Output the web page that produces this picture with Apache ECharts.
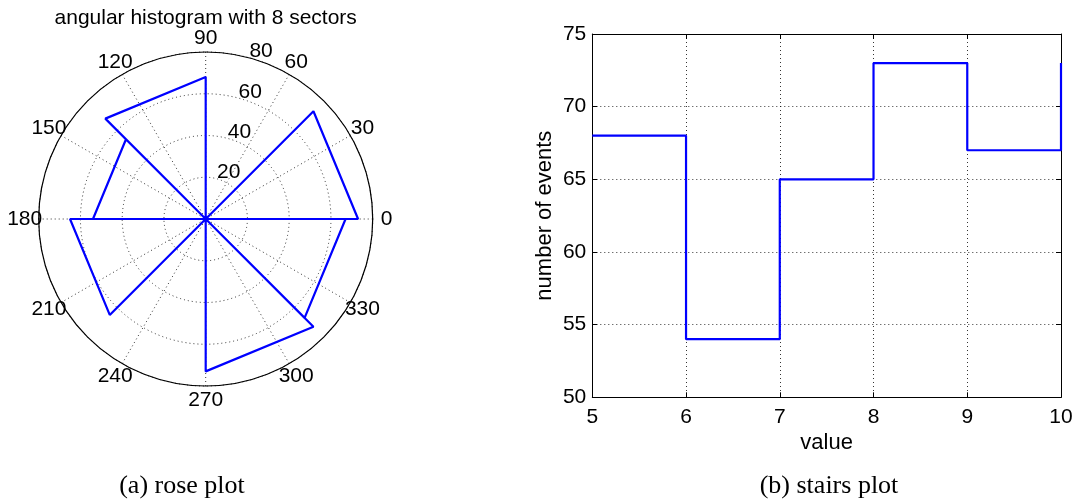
<!DOCTYPE html>
<html>
<head>
<meta charset="utf-8">
<script src="https://cdn.jsdelivr.net/npm/echarts@6/dist/echarts.min.js"></script>
<style>
  html, body { margin: 0; padding: 0; background: #fff; }
  #chart { width: 1078px; height: 500px; }
</style>
</head>
<body>
<div id="chart"></div>
<script>
// rose plot: 8 sectors of 45 deg, counts per sector
const sectorStarts = [0, 45, 90, 135, 180, 225, 270, 315]
const sectorCounts = [73, 0, 68, 54, 65, 0, 73, 67]
const angleTicks = [0, 30, 60, 90, 120, 150, 180, 210, 240, 270, 300, 330]
const radiusTicks = [20, 40, 60, 80]

// stairs plot
const stairX = [5, 6, 7, 8, 9, 10]
const stairY = [68, 54, 65, 73, 67, 73]

const FONT = 'Liberation Sans, Arial, sans-serif'
const SERIF = 'Liberation Serif, serif'
const BLUE = '#0000ff'
const DOT = { color: '#000', width: 0.8, type: [1, 3] }
const TICK = 21

// each sector is a triangle: origin -> (r, a0) -> (r, a1) -> origin
const rosePoints = []
sectorStarts.forEach((a0, i) => {
  const r = sectorCounts[i]
  rosePoints.push([0, a0], [r, a0], [r, a0 + 45], [0, a0 + 45])
})

const labelText = { fontSize: TICK, color: '#000', opacity: 1, fontFamily: FONT, textBorderWidth: 0, textShadowBlur: 0 }

const chart = echarts.init(document.getElementById('chart'))

chart.setOption({
  animation: false,
  backgroundColor: '#fff',
  textStyle: { fontFamily: FONT, color: '#000' },
  polar: { center: [205.7, 219], radius: 167 },
  angleAxis: {
    type: 'value',
    min: 0,
    max: 360,
    interval: 30,
    startAngle: 0,
    clockwise: false,
    axisLine: { show: true, lineStyle: { color: '#000', width: 1.2 } },
    axisTick: { show: false },
    axisLabel: { show: false },
    splitLine: { show: true, lineStyle: DOT },
  },
  radiusAxis: {
    type: 'value',
    min: 0,
    max: 80,
    interval: 20,
    axisLine: { show: false },
    axisTick: { show: false },
    axisLabel: { show: false },
    splitLine: { show: true, lineStyle: DOT },
  },
  grid: { left: 592.3, right: 17, top: 34, bottom: 102.7, containLabel: false },
  xAxis: [
    {
      type: 'value',
      min: 5,
      max: 10,
      interval: 1,
      name: 'value',
      nameLocation: 'middle',
      nameGap: 30,
      nameTextStyle: { fontSize: 22, color: '#000', fontFamily: FONT },
      axisLine: { show: true, lineStyle: { color: '#000', width: 1 } },
      axisTick: { show: true, inside: true, length: 5, lineStyle: { color: '#000' } },
      axisLabel: { fontSize: TICK, color: '#000', margin: 9, fontFamily: FONT },
      splitLine: { show: true, lineStyle: DOT },
    },
    {
      type: 'value',
      position: 'top',
      min: 5,
      max: 10,
      interval: 1,
      axisLine: { show: true, lineStyle: { color: '#000', width: 1 } },
      axisTick: { show: true, inside: true, length: 5, lineStyle: { color: '#000' } },
      axisLabel: { show: false },
      splitLine: { show: false },
    },
  ],
  yAxis: [
    {
      type: 'value',
      min: 50,
      max: 75,
      interval: 5,
      name: 'number of events',
      nameLocation: 'middle',
      nameGap: 36,
      nameTextStyle: { fontSize: 22, color: '#000', fontFamily: FONT },
      axisLine: { show: true, lineStyle: { color: '#000', width: 1 } },
      axisTick: { show: true, inside: true, length: 5, lineStyle: { color: '#000' } },
      axisLabel: { fontSize: TICK, color: '#000', margin: 6, fontFamily: FONT },
      splitLine: { show: true, lineStyle: DOT },
    },
    {
      type: 'value',
      position: 'right',
      min: 50,
      max: 75,
      interval: 5,
      axisLine: { show: true, lineStyle: { color: '#000', width: 1 } },
      axisTick: { show: true, inside: true, length: 5, lineStyle: { color: '#000' } },
      axisLabel: { show: false },
      splitLine: { show: false },
    },
  ],
  series: [
    {
      type: 'line',
      coordinateSystem: 'polar',
      data: rosePoints,
      showSymbol: false,
      symbol: 'none',
      lineStyle: { color: BLUE, width: 2.2 },
      silent: true,
    },
    {
      // angle labels, centred just outside the circle
      type: 'scatter',
      coordinateSystem: 'polar',
      clip: false,
      data: angleTicks.map(a => [86.7, a]),
      symbolSize: 1,
      itemStyle: { color: 'rgba(255,255,255,0)', opacity: 1 },
      label: Object.assign({ show: true, position: 'inside', formatter: p => String(p.value[1]) }, labelText),
      silent: true,
    },
    {
      // radial labels along the 75 deg line
      type: 'scatter',
      coordinateSystem: 'polar',
      clip: false,
      data: radiusTicks.map(r => [r, 75]),
      symbolSize: 1,
      itemStyle: { color: 'rgba(255,255,255,0)', opacity: 1 },
      label: Object.assign({ show: true, position: 'right', distance: 0, offset: [0, -6], formatter: p => String(p.value[0]) }, labelText),
      silent: true,
    },
    {
      type: 'line',
      xAxisIndex: 0,
      yAxisIndex: 0,
      data: stairX.map((x, i) => [x, stairY[i]]),
      step: 'end',
      clip: false,
      showSymbol: false,
      symbol: 'none',
      lineStyle: { color: BLUE, width: 2.2 },
      silent: true,
    },
  ],
  graphic: [
    {
      type: 'text',
      x: 205.7,
      y: 18,
      style: { text: 'angular histogram with 8 sectors', align: 'center', verticalAlign: 'middle', fontSize: 21, fontFamily: FONT, fill: '#000' },
    },
    {
      type: 'text',
      x: 182,
      y: 486,
      style: { text: '(a) rose plot', align: 'center', verticalAlign: 'middle', fontSize: 26, fontFamily: SERIF, fill: '#000' },
    },
    {
      type: 'text',
      x: 829,
      y: 486,
      style: { text: '(b) stairs plot', align: 'center', verticalAlign: 'middle', fontSize: 26, fontFamily: SERIF, fill: '#000' },
    },
  ],
})
</script>
</body>
</html>
